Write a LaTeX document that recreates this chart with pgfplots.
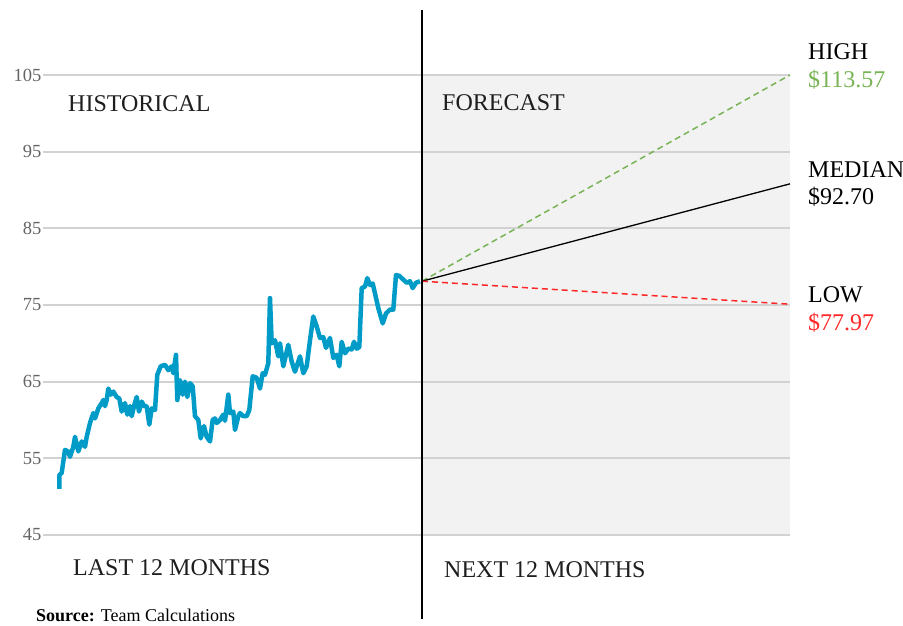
\documentclass[border=0pt]{standalone}
\usepackage{pgfplots}
\pgfplotsset{compat=1.18}
\usepackage{fontspec}
\setmainfont{Liberation Serif}
\definecolor{histblue}{RGB}{0,155,198}
\definecolor{hgreen}{RGB}{120,180,85}
\definecolor{lred}{RGB}{255,40,40}
\definecolor{gridgray}{RGB}{210,210,210}
\definecolor{shade}{RGB}{242,242,242}
\definecolor{ticktxt}{RGB}{100,100,100}
\definecolor{txt}{RGB}{30,30,30}
\begin{document}
\begin{tikzpicture}
\begin{axis}[
  set layers,
  scale only axis,
  width=747pt, height=460pt,
  xmin=43, xmax=790, ymin=45, ymax=105,
  clip=false,
  axis line style={draw=none},
  tick style={draw=none},
  xtick=\empty,
  ytick={45,55,...,105},
  ymajorgrids,
  grid style={gridgray, line width=2pt},
  /pgf/number format/assume math mode=true,
  yticklabel style={font=\fontsize{18.5}{20}\selectfont, text=ticktxt, xshift=2pt},
]
\addplot[fill=shade, draw=none, on layer=axis background] coordinates {(422,45) (422,105) (790,105) (790,45)} -- cycle;
\addplot[histblue, line width=4.5pt, line join=round] coordinates {
(59.3,51.0)(59.3,52.8)(61.7,53.1)(65,56.1)(68,55.9)(70,55.2)(73.3,56.5)(75,57.8)(78.3,55.9)(81.7,57.2)(85,56.5)(86.7,57.8)(90,59.6)(93.3,60.9)(95,60.2)(98.3,61.5)(101.7,62.2)(103.3,62.6)(105,61.8)(106.7,62.6)(108.3,64.1)(110.7,63.3)(113.3,63.7)(116.7,63.0)(119.3,62.8)(121.7,61.1)(125,62.2)(127.3,60.7)(130,61.8)(131.7,60.5)(134,61.8)(136.7,63.0)(139,61.1)(141.7,62.4)(144,61.8)(146.7,61.8)(149.3,59.4)(151.7,61.5)(155,61.3)(157.3,65.9)(160.7,67.0)(165,67.2)(168.3,66.5)(171.7,67.0)(173.3,66.1)(176,68.5)(177.3,62.6)(180,65.2)(182.7,63.3)(185,65.0)(187.3,63.0)(190,64.8)(192.7,64.4)(195,60.5)(198.3,60.0)(200.7,57.6)(204,59.2)(206.7,57.8)(210,57.2)(212.7,60.0)(215,60.2)(216.7,59.6)(220,60.0)(223.3,60.7)(225,59.9)(228.3,63.3)(230,60.9)(233.3,61.1)(235,58.7)(238.3,60.5)(240,60.9)(243.3,60.5)(246.7,60.5)(249.3,61.3)(252.7,65.7)(256.7,65.5)(260,64.1)(262.7,66.1)(265,65.9)(268.3,67.4)(270,75.9)(271.7,70.0)(275,70.4)(278.3,68.3)(280,70.0)(283.3,67.0)(288.3,69.8)(291.7,67.6)(295,66.3)(300,68.3)(303.3,66.1)(306.7,67.0)(310,70.4)(313.3,73.5)(316.7,72.2)(320,70.7)(323.3,70.8)(326,69.4)(330,70.7)(333.3,68.1)(336.7,68.5)(339.3,67.0)(341.7,70.2)(345,68.7)(348.3,69.3)(351.7,69.2)(354,70.2)(356.7,69.3)(359.3,69.5)(361.7,77.2)(365,77.4)(367.3,78.5)(370,77.6)(372.7,77.8)(375,76.5)(378.3,74.6)(382.7,72.6)(386,73.9)(390,74.4)(393.3,74.4)(396,78.9)(399.3,78.8)(403.3,78.3)(406.7,77.9)(410,78.1)(412.7,77.2)(416,77.9)(420,78.1)
};
\addplot[hgreen, line width=1.5pt, dash pattern=on 6pt off 4pt] coordinates {(422,78.1) (790,105)};
\addplot[black, line width=1.3pt] coordinates {(422,78.1) (790,90.8)};
\addplot[lred, line width=1.5pt, dash pattern=on 6pt off 4pt] coordinates {(422,78.1) (790,75.1)};
\addplot[black, line width=1.3pt] coordinates {(422,113.5) (422,34.0)};
\begin{scope}[every node/.style={inner sep=0pt, anchor=west, font=\fontsize{24}{26}\selectfont}]
\node[text=txt] at (axis cs:68,101.22) {HISTORICAL};
\node[text=txt] at (axis cs:442,101.35) {FORECAST};
\node[text=txt] at (axis cs:73,40.70) {LAST 12 MONTHS};
\node[text=txt] at (axis cs:444,40.44) {NEXT 12 MONTHS};
\node at (axis cs:808,108.0) {HIGH};
\node[text=hgreen] at (axis cs:808,104.35) {\$113.57};
\node at (axis cs:808,92.61) {MEDIAN};
\node at (axis cs:808,89.09) {\$92.70};
\node at (axis cs:808,76.30) {LOW};
\node[text=lred] at (axis cs:808,72.65) {\$77.97};
\end{scope}
\node[inner sep=0pt, anchor=west, font=\fontsize{18}{20}\selectfont] at (axis cs:36,34.5) {\textbf{Source:} Team Calculations};
\coordinate (bl) at (axis cs:0,33.13);
\coordinate (tr) at (axis cs:903,114.78);
\end{axis}
\pgfresetboundingbox
\path[use as bounding box] (bl) rectangle (tr);
\end{tikzpicture}
\end{document}
